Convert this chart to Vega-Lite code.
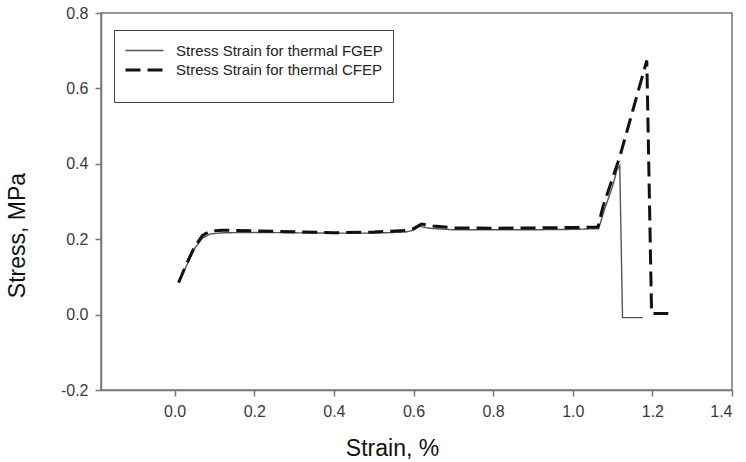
{
  "$schema": "https://vega.github.io/schema/vega-lite/v6.json",
  "width": 631,
  "height": 377,
  "autosize": {"type": "none"},
  "padding": {"left": 101, "top": 13, "right": 14, "bottom": 72},
  "background": "white",
  "config": {
    "font": "Liberation Sans",
    "view": {"stroke": "#777", "strokeWidth": 1.5},
    "axis": {
      "grid": false,
      "domainColor": "#777",
      "domainWidth": 1.5,
      "tickColor": "#777",
      "tickWidth": 1.5,
      "tickSize": 6,
      "labelFont": "Liberation Sans",
      "labelFontSize": 16,
      "labelColor": "#3a3a3a",
      "titleFont": "Liberation Sans",
      "titleFontSize": 23,
      "titleFontWeight": "normal",
      "titleColor": "#111"
    }
  },
  "data": {
    "values": [
      {"series": "Stress Strain for thermal FGEP", "i": 1, "x": 0.01, "y": 0.085},
      {"series": "Stress Strain for thermal FGEP", "i": 2, "x": 0.03, "y": 0.13},
      {"series": "Stress Strain for thermal FGEP", "i": 3, "x": 0.05, "y": 0.175},
      {"series": "Stress Strain for thermal FGEP", "i": 4, "x": 0.07, "y": 0.203},
      {"series": "Stress Strain for thermal FGEP", "i": 5, "x": 0.09, "y": 0.214},
      {"series": "Stress Strain for thermal FGEP", "i": 6, "x": 0.12, "y": 0.217},
      {"series": "Stress Strain for thermal FGEP", "i": 7, "x": 0.2, "y": 0.218},
      {"series": "Stress Strain for thermal FGEP", "i": 8, "x": 0.3, "y": 0.217},
      {"series": "Stress Strain for thermal FGEP", "i": 9, "x": 0.4, "y": 0.216},
      {"series": "Stress Strain for thermal FGEP", "i": 10, "x": 0.5, "y": 0.216},
      {"series": "Stress Strain for thermal FGEP", "i": 11, "x": 0.58, "y": 0.219},
      {"series": "Stress Strain for thermal FGEP", "i": 12, "x": 0.6, "y": 0.224},
      {"series": "Stress Strain for thermal FGEP", "i": 13, "x": 0.615, "y": 0.234},
      {"series": "Stress Strain for thermal FGEP", "i": 14, "x": 0.64, "y": 0.229},
      {"series": "Stress Strain for thermal FGEP", "i": 15, "x": 0.7, "y": 0.225},
      {"series": "Stress Strain for thermal FGEP", "i": 16, "x": 0.8, "y": 0.225},
      {"series": "Stress Strain for thermal FGEP", "i": 17, "x": 0.9, "y": 0.225},
      {"series": "Stress Strain for thermal FGEP", "i": 18, "x": 1.0, "y": 0.226},
      {"series": "Stress Strain for thermal FGEP", "i": 19, "x": 1.065, "y": 0.228},
      {"series": "Stress Strain for thermal FGEP", "i": 20, "x": 1.08, "y": 0.28},
      {"series": "Stress Strain for thermal FGEP", "i": 21, "x": 1.1, "y": 0.34},
      {"series": "Stress Strain for thermal FGEP", "i": 22, "x": 1.111, "y": 0.384},
      {"series": "Stress Strain for thermal FGEP", "i": 23, "x": 1.118, "y": 0.395},
      {"series": "Stress Strain for thermal FGEP", "i": 24, "x": 1.125, "y": -0.008},
      {"series": "Stress Strain for thermal FGEP", "i": 25, "x": 1.176, "y": -0.008},
      {"series": "Stress Strain for thermal CFEP", "i": 1, "x": 0.01, "y": 0.085},
      {"series": "Stress Strain for thermal CFEP", "i": 2, "x": 0.03, "y": 0.135},
      {"series": "Stress Strain for thermal CFEP", "i": 3, "x": 0.05, "y": 0.18},
      {"series": "Stress Strain for thermal CFEP", "i": 4, "x": 0.07, "y": 0.21},
      {"series": "Stress Strain for thermal CFEP", "i": 5, "x": 0.09, "y": 0.222},
      {"series": "Stress Strain for thermal CFEP", "i": 6, "x": 0.12, "y": 0.224},
      {"series": "Stress Strain for thermal CFEP", "i": 7, "x": 0.2, "y": 0.222},
      {"series": "Stress Strain for thermal CFEP", "i": 8, "x": 0.3, "y": 0.22},
      {"series": "Stress Strain for thermal CFEP", "i": 9, "x": 0.4, "y": 0.217},
      {"series": "Stress Strain for thermal CFEP", "i": 10, "x": 0.5, "y": 0.219},
      {"series": "Stress Strain for thermal CFEP", "i": 11, "x": 0.58, "y": 0.223},
      {"series": "Stress Strain for thermal CFEP", "i": 12, "x": 0.6, "y": 0.228},
      {"series": "Stress Strain for thermal CFEP", "i": 13, "x": 0.62, "y": 0.24},
      {"series": "Stress Strain for thermal CFEP", "i": 14, "x": 0.65, "y": 0.235},
      {"series": "Stress Strain for thermal CFEP", "i": 15, "x": 0.7, "y": 0.23},
      {"series": "Stress Strain for thermal CFEP", "i": 16, "x": 0.8, "y": 0.229},
      {"series": "Stress Strain for thermal CFEP", "i": 17, "x": 0.9, "y": 0.23},
      {"series": "Stress Strain for thermal CFEP", "i": 18, "x": 1.0, "y": 0.231},
      {"series": "Stress Strain for thermal CFEP", "i": 19, "x": 1.063, "y": 0.232},
      {"series": "Stress Strain for thermal CFEP", "i": 20, "x": 1.076, "y": 0.287},
      {"series": "Stress Strain for thermal CFEP", "i": 21, "x": 1.118, "y": 0.418},
      {"series": "Stress Strain for thermal CFEP", "i": 22, "x": 1.186, "y": 0.674},
      {"series": "Stress Strain for thermal CFEP", "i": 23, "x": 1.198, "y": 0.003},
      {"series": "Stress Strain for thermal CFEP", "i": 24, "x": 1.24, "y": 0.003}
    ]
  },
  "mark": {"type": "line", "strokeCap": "butt", "strokeJoin": "miter"},
  "encoding": {
    "x": {
      "field": "x",
      "type": "quantitative",
      "scale": {"domain": [-0.185, 1.4], "nice": false, "zero": false},
      "axis": {"values": [0, 0.2, 0.4, 0.6, 0.8, 1.0, 1.2, 1.4], "format": ".1f", "title": "Strain, %", "labelPadding": 7, "titleX": 291, "titleY": 65, "titleBaseline": "alphabetic"}
    },
    "y": {
      "field": "y",
      "type": "quantitative",
      "scale": {"domain": [-0.2, 0.8], "nice": false, "zero": false},
      "axis": {"values": [-0.2, 0, 0.2, 0.4, 0.6, 0.8], "format": ".1f", "labelExpr": "replace(datum.label, '−', '-')", "title": "Stress, MPa", "labelPadding": 7, "titleX": -77, "titleY": 222, "titleBaseline": "alphabetic"}
    },
    "order": {"field": "i", "type": "quantitative"},
    "color": {
      "field": "series",
      "type": "nominal",
      "scale": {"domain": ["Stress Strain for thermal FGEP", "Stress Strain for thermal CFEP"], "range": ["#555555", "#111111"]},
      "legend": {
        "title": " ",
        "titleOrient": "bottom",
        "titleFontSize": 12,
        "titlePadding": 3,
        "orient": "none",
        "legendX": 13,
        "legendY": 17,
        "padding": 10,
        "strokeColor": "#444",
        "fillColor": "white",
        "symbolType": "M-1,0H3",
        "symbolSize": 361,
        "symbolStrokeWidth": 2.5,
        "labelFont": "Liberation Sans",
        "labelFontSize": 15,
        "labelColor": "#222",
        "labelOffset": 30,
        "labelLimit": 400,
        "rowPadding": 0
      }
    },
    "strokeDash": {
      "field": "series",
      "type": "nominal",
      "scale": {"domain": ["Stress Strain for thermal FGEP", "Stress Strain for thermal CFEP"], "range": [[1, 0], [15, 7]]}
    },
    "strokeWidth": {
      "field": "series",
      "type": "nominal",
      "scale": {"domain": ["Stress Strain for thermal FGEP", "Stress Strain for thermal CFEP"], "range": [1.4, 3]}
    }
  }
}
